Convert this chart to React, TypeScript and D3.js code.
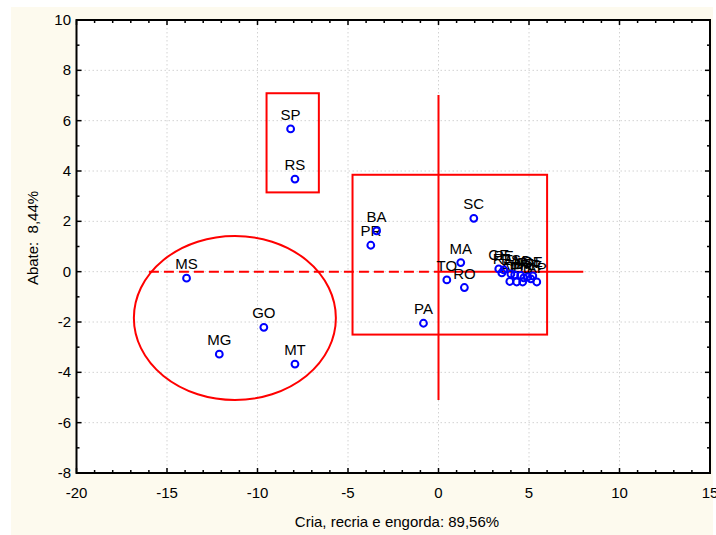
import React from "react";
import * as d3 from "d3";

const states = ["SP","RS","MS","GO","MG","MT","BA","PR","SC","MA","TO","RO","PA",
  "CE","PE","RJ","ES","AL","AM","PI","AC","DF","PB","RN","RR","SE","AP"];
const xVals = [-8.17,-7.93,-13.92,-9.65,-12.11,-7.93,-3.42,-3.74,1.95,1.23,0.46,1.43,-0.83,
  3.33,3.61,3.50,4.00,3.94,4.21,4.32,4.54,4.71,4.65,4.93,5.10,5.21,5.43];
const yVals = [5.67,3.68,-0.26,-2.21,-3.28,-3.67,1.62,1.05,2.12,0.36,-0.33,-0.63,-2.05,
  0.11,0.07,-0.05,-0.09,-0.39,-0.13,-0.41,-0.15,-0.25,-0.41,-0.21,-0.29,-0.17,-0.41];

const xTicks = [-20,-15,-10,-5,0,5,10,15];
const yTicks = [-8,-6,-4,-2,0,2,4,6,8,10];
const xMinor = d3.range(-20, 16, 1);
const yMinor = d3.range(-8, 11, 1);

// annotation shapes (data units)
const smallRect = [-9.5, 3.15, -6.61, 7.09];
const bigRect = [-4.75, -2.5, 6.0, 3.85];
const ellipseC = [-11.25, -1.84, 5.58, 3.26];
const vLine = [0, -5.1, 0, 7.02];
const hSolid = [0, 0, 8, 0];
const hDashed = [-16, 0, 0, 0];

const xTitle = "Cria, recria e engorda: 89,56%";
const yTitle = "Abate:  8,44%";

export default function App() {
  const x = d3.scaleLinear().domain([-20, 15]).range([76.5, 710]);
  const y = d3.scaleLinear().domain([-8, 10]).range([473, 20]);
  const font = "'Liberation Sans', Arial, sans-serif";
  const red = "#ff0000";
  const L = 76.5, R = 710, T = 20, B = 473;
  const fs = 15;
  return (
    <div style={{ position: "absolute", left: 0, top: 0 }}>
      <svg width={716} height={535} style={{ display: "block" }} fontFamily={font}>
        <rect x={0} y={0} width={716} height={535} fill="#ffffff" />
        <rect x={11} y={7} width={702} height={528} fill="#fdfaee" />
        <rect x={L} y={T} width={R - L} height={B - T} fill="#ffffff" />
        {/* grid */}
        {xTicks.slice(1, -1).map((t) => (
          <line key={"gx" + t} x1={x(t)} x2={x(t)} y1={T} y2={B} stroke="#d2d2d2" strokeWidth={1} strokeDasharray="1.5,2.5" />
        ))}
        {yTicks.slice(1, -1).map((t) => (
          <line key={"gy" + t} x1={L} x2={R} y1={y(t)} y2={y(t)} stroke="#d2d2d2" strokeWidth={1} strokeDasharray="1.5,2.5" />
        ))}
        {/* annotations */}
        <rect x={x(smallRect[0])} y={y(smallRect[3])} width={x(smallRect[2]) - x(smallRect[0])} height={y(smallRect[1]) - y(smallRect[3])} fill="none" stroke={red} strokeWidth={2} />
        <rect x={x(bigRect[0])} y={y(bigRect[3])} width={x(bigRect[2]) - x(bigRect[0])} height={y(bigRect[1]) - y(bigRect[3])} fill="none" stroke={red} strokeWidth={2} />
        <ellipse cx={x(ellipseC[0])} cy={y(ellipseC[1])} rx={x(ellipseC[0] + ellipseC[2]) - x(ellipseC[0])} ry={y(ellipseC[1] - ellipseC[3]) - y(ellipseC[1])} fill="none" stroke={red} strokeWidth={2} />
        <line x1={x(vLine[0])} y1={y(vLine[1])} x2={x(vLine[2])} y2={y(vLine[3])} stroke={red} strokeWidth={2} />
        <line x1={x(hDashed[0])} y1={y(hDashed[1])} x2={x(hDashed[2])} y2={y(hDashed[3])} stroke={red} strokeWidth={2} strokeDasharray="10,5" />
        <line x1={x(hSolid[0])} y1={y(hSolid[1])} x2={x(hSolid[2])} y2={y(hSolid[3])} stroke={red} strokeWidth={2} />
        {/* labels */}
        {states.map((s, i) => (
          <text key={"l" + s} x={x(xVals[i])} y={y(yVals[i]) - 9} textAnchor="middle" fontSize={fs} fill="#000">{s}</text>
        ))}
        {/* points */}
        {states.map((s, i) => (
          <circle key={"p" + s} cx={x(xVals[i])} cy={y(yVals[i])} r={3.4} fill="none" stroke="#0000ff" strokeWidth={2} />
        ))}
        {/* frame */}
        <rect x={L} y={T} width={R - L} height={B - T} fill="none" stroke="#000" strokeWidth={2} />
        {/* ticks */}
        {xMinor.map((t) => {
          const len = t % 5 === 0 ? 5 : 3;
          return (
            <g key={"tx" + t}>
              <line x1={x(t)} x2={x(t)} y1={B} y2={B - len} stroke="#000" strokeWidth={1.5} />
              <line x1={x(t)} x2={x(t)} y1={T} y2={T + len} stroke="#000" strokeWidth={1.5} />
            </g>
          );
        })}
        {yMinor.map((t) => {
          const len = t % 2 === 0 ? 5 : 3;
          return (
            <g key={"ty" + t}>
              <line x1={L} x2={L + len} y1={y(t)} y2={y(t)} stroke="#000" strokeWidth={1.5} />
              <line x1={R} x2={R - len} y1={y(t)} y2={y(t)} stroke="#000" strokeWidth={1.5} />
            </g>
          );
        })}
        {xTicks.map((t) => (
          <text key={"xl" + t} x={x(t)} y={B + 25} textAnchor="middle" fontSize={fs} fill="#000">{String(t)}</text>
        ))}
        {yTicks.map((t) => (
          <text key={"yl" + t} x={71} y={y(t) + 5} textAnchor="end" fontSize={fs} fill="#000">{String(t)}</text>
        ))}
        <text x={397} y={527} textAnchor="middle" fontSize={fs} fill="#000">{xTitle}</text>
        <text transform={`translate(38,238) rotate(-90)`} textAnchor="middle" fontSize={fs} fill="#000" style={{ whiteSpace: "pre" }}>{yTitle}</text>
      </svg>
    </div>
  );
}
